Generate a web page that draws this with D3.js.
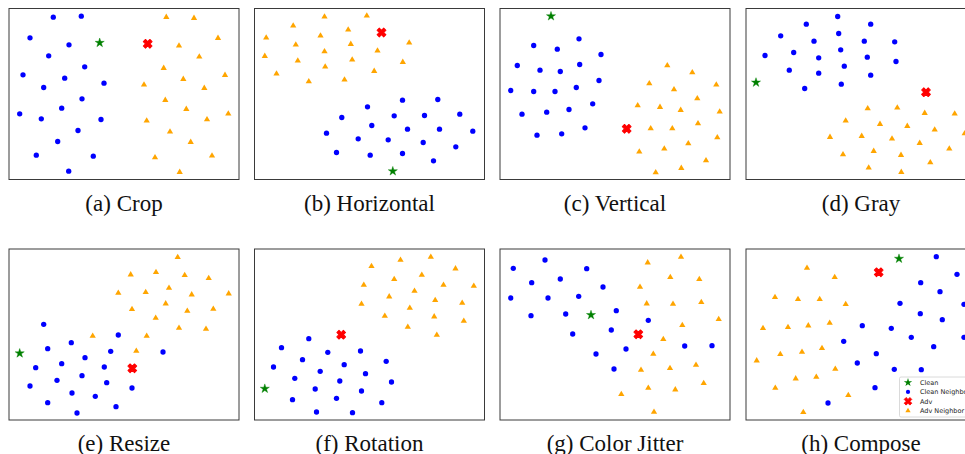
<!DOCTYPE html>
<html>
<head>
<meta charset="utf-8">
<script src="https://cdn.jsdelivr.net/npm/d3@7"></script>
<style>
  body { margin: 0; background: #fff; }
  svg { display: block; }
  .caption { font-family: "Liberation Serif", "Times New Roman", serif; font-size: 23px; fill: #111; }
  .legend text { font-family: "DejaVu Sans", sans-serif; font-size: 6.5px; fill: #222; }
</style>
</head>
<body>
<script>
// embedding coordinates (x right, y down, panel is 230 x 171)
const cropBlue = [[44.3,8.7],[72.3,7.7],[21,29.3],[60,36.3],[39.7,47.3],[75.7,58.3],[14,66.3],[55.7,69.7],[34.7,79],[95,74.7],
  [73,90.3],[52.7,99.7],[10.7,105.3],[32.3,110.3],[92,111],[69,122],[48.7,133],[27.3,146.7],[84.3,147.7],[59.7,162.7]];
const cropOrange = [[157.3,8.7],[185,9.7],[209,29.7],[170,37.3],[190.3,48.3],[154.7,59.7],[216,66.7],[174.3,70.7],[135,76.3],[195.3,79.7],
  [156.3,91.7],[177.3,100.7],[219.3,105.3],[137.7,112.3],[198,111],[161,123.3],[181.7,133.7],[146,149],[203,147.3],[170.7,163.7]];
const cropClean = [90.7, 34.3];
const cropAdv = [138.7, 35.3];

const horizBlue = [[148,91.7],[183.3,91],[113,98.3],[87.3,109],[139.7,107.3],[170,107],[205.3,105.7],[117.3,117],[153,120.7],[185,120.7],
  [218.3,122.7],[72,124.7],[103.7,130.3],[133.7,131.3],[168.7,134],[201.3,138.3],[82,144],[115.7,146.7],[148,145],[179,152.3]];
const horizOrange = [[70,8.3],[112.3,7.3],[38.7,17.3],[66,27.3],[93.7,21.3],[11.7,29.3],[41.3,36.3],[70,43],[96.3,35.7],[123,42.3],
  [154.7,34.3],[10.3,47.7],[43.3,52.3],[70.7,58.3],[97.7,51.3],[148.3,53.7],[22,65.3],[119.7,62.7],[54.3,73],[90,71.3]];
const horizClean = [138.3, 162.7];
const horizAdv = [127, 24];

const vertBlue = [[79,30.3],[33.7,37],[57.3,40.7],[101,46],[17.3,57],[40,61.7],[60.3,63],[79.7,56],[99,72],[10.7,82],
  [33.7,83],[55,83],[76.3,79],[92.7,95.3],[22,105.7],[46.7,103.7],[69,101],[85,119.3],[37,126.7],[61.7,125.3]];
const vertOrange = [[167.3,57],[192.3,64],[149.3,75],[174,81],[216.3,76.3],[197.3,90],[137.7,97],[160,98.7],[180.7,101.7],[219.7,103.3],
  [150.7,120],[172.3,120],[198,115],[217.3,129],[188.3,135],[164.3,140.3],[139.3,143.3],[206,152],[181.3,159.7],[155.7,164]];
const vertClean = [51, 7.7];
const vertAdv = [126.7, 120.3];

const grayBlue = [[91.7,8],[60.3,15.7],[124.7,15.7],[34.7,27.3],[92.7,25],[68,32.7],[118.3,32.7],[148.7,33.3],[19,47],[47.7,44],
  [72.7,49.3],[94.7,41.3],[121.3,48.7],[150,53],[43.3,61.7],[72.7,64.7],[98.3,57.7],[124.7,66.7],[58.7,80],[95.3,75.7]];
const grayOrange = [[121.7,100],[151.3,99.3],[178.7,104.7],[208.7,105.3],[99.7,112.3],[134,115.7],[161.3,117.7],[188.7,121.3],[218.7,125],[84,128.7],
  [115.7,127.7],[146,130.3],[173.7,134.7],[203.3,140.3],[97,146],[127.7,142.7],[155,146.7],[184.3,154],[122.7,159.3],[155.3,163.7]];
const grayClean = [10, 74];
const grayAdv = [180, 83.7];

const resizeBlue = [[34.7,75.3],[109.3,86],[62.3,93.7],[38.7,99.7],[101.7,102.3],[154,103],[76,108.7],[26.7,118.7],[52.7,114.7],[95.3,118],
  [73,126.7],[21,137],[48,131.3],[97.7,133.7],[123,139],[63,144],[86.3,147.3],[38.7,153.7],[107,157.7],[68,164]];
const resizeOrange = [[168.7,8.3],[121.7,25.7],[147,23.3],[175.7,26.3],[199.7,29.3],[109.3,44],[136.7,43.3],[160,39],[182.7,45.7],[219.7,44.7],
  [123,60.3],[156.7,54.7],[178.3,62],[204.3,60],[146.7,69],[170,79],[197,80],[83.7,87],[137.7,87],[127.3,102]];
const resizeClean = [10.7, 104.3];
const resizeAdv = [123.3, 119.3];

const rotBlue = [[54.3,89.7],[27,98.7],[73.3,103.3],[106,102],[48,110.7],[131.7,112.3],[19,118],[89.7,115.7],[65.7,122.3],[111,124.7],
  [40.3,129.3],[85.3,132],[137,133],[60.7,140],[107,142],[38,150.7],[82,149.3],[127.3,153.7],[62,163],[98,163.7]];
const rotOrange = [[117,17.3],[146,11],[176.3,8],[201,19.7],[139.7,30.3],[167.3,26],[109.3,36],[160,42],[189,36],[219.3,37],
  [134.7,47.7],[180.7,51.3],[207.7,54],[107,55],[155.3,59],[130.3,67],[179.7,67.7],[209.3,72],[153.3,78],[182.3,86]];
const rotClean = [10.3, 139.7];
const rotAdv = [86.7, 85.7];

const jitterBlue = [[13.3,19.3],[45,11],[86.7,19.7],[31.7,33.7],[60.3,30],[103,38],[10.7,49],[48,49],[78.7,47.3],[31,66.7],
  [65.7,65],[116.3,61.7],[148.3,71.3],[72.7,85],[111.3,81],[126,100],[184.7,97],[212,96.7],[96,105],[114,120]];
const jitterOrange = [[147.7,13.7],[181,8],[170.3,28.3],[199.3,30.3],[140,38],[146.7,54.7],[173,55],[201.3,53.3],[218.7,70.3],[182.3,76.3],
  [163.3,90.3],[153.3,105],[196,116],[170,119.3],[141,121],[203.7,134.3],[148.3,139],[175.3,140.7],[121.3,145.3],[154,163]];
const jitterClean = [91, 66];
const jitterAdv = [138.3, 85.3];

const composeBlue = [[190.3,7.7],[211,25.3],[174.7,33.7],[194,42.7],[218,55.3],[154,54.3],[174.3,64.7],[196.3,70.7],[116.3,76.7],[145.3,79.3],
  [165.3,88.3],[218,88.3],[187.7,97.7],[97.7,92.3],[130.3,104.7],[111.3,114],[148.3,120.3],[175.3,120.7],[129,138.7],[82,154]];
const composeOrange = [[61,19],[88.7,28.3],[29,48.3],[52,50.3],[73.7,50.3],[99.7,55.3],[17,79.3],[42,78.3],[62.3,76.7],[83.7,74],
  [10.7,111.7],[34.3,105.3],[56,103],[76,99.3],[89.3,120],[49.7,129.7],[70.3,128],[29.3,139],[102.3,146.3],[57.3,163.3]];
const composeClean = [153, 9.7];
const composeAdv = [132.7, 23.3];

const captions = ["(a) Crop", "(b) Horizontal", "(c) Vertical", "(d) Gray",
  "(e) Resize", "(f) Rotation", "(g) Color Jitter", "(h) Compose"];
const legendLabels = ["Clean", "Clean Neighbor", "Adv", "Adv Neighbor"];

const panels = [
  [cropBlue, cropOrange, cropClean, cropAdv],
  [horizBlue, horizOrange, horizClean, horizAdv],
  [vertBlue, vertOrange, vertClean, vertAdv],
  [grayBlue, grayOrange, grayClean, grayAdv],
  [resizeBlue, resizeOrange, resizeClean, resizeAdv],
  [rotBlue, rotOrange, rotClean, rotAdv],
  [jitterBlue, jitterOrange, jitterClean, jitterAdv],
  [composeBlue, composeOrange, composeClean, composeAdv]
].map(([blue, orange, clean, adv], i) => ({ blue, orange, clean, adv, caption: captions[i] }));

// layout
const width = 965;
const height = 454;
const pw = 230;
const ph = 171;
const lefts = [9, 254.5, 500, 746];
const tops = [8.5, 249];

const x = d3.scaleLinear().domain([0, 230]).range([0, pw]);
const y = d3.scaleLinear().domain([0, 171]).range([0, ph]);

const colors = { blue: "#0000ff", orange: "#ffa500", clean: "#008000", adv: "#ff0000" };
const sym = {
  blue: d3.symbol(d3.symbolCircle, 22)(),
  orange: d3.symbol(d3.symbolTriangle, 17)(),
  clean: d3.symbol(d3.symbolStar, 26)(),
  adv: d3.symbol(d3.symbolCross, 48)()
};
const rot = (k) => (k === "adv" ? " rotate(45)" : "");

const svg = d3.select("body").append("svg")
  .attr("width", width)
  .attr("height", height);

const g = svg.selectAll("g.panel")
  .data(panels)
  .join("g")
  .attr("class", "panel")
  .attr("transform", (d, i) => `translate(${lefts[i % 4]},${tops[Math.floor(i / 4)]})`);

g.append("rect")
  .attr("width", pw)
  .attr("height", ph)
  .attr("fill", "#fff")
  .attr("stroke", "#3a3a3a")
  .attr("stroke-width", 1);

// scatter marks
g.each(function (d) {
  const p = d3.select(this);
  ["orange", "blue"].forEach((k) => {
    p.selectAll(`path.${k}`)
      .data(d[k])
      .join("path")
      .attr("class", k)
      .attr("d", sym[k])
      .attr("fill", colors[k])
      .attr("transform", (v) => `translate(${x(v[0])},${y(v[1])})`);
  });
  ["clean", "adv"].forEach((k) => {
    p.append("path")
      .attr("d", sym[k])
      .attr("fill", colors[k])
      .attr("stroke", colors[k])
      .attr("stroke-width", k === "adv" ? 1 : 0.4)
      .attr("stroke-linejoin", "round")
      .attr("transform", `translate(${x(d[k][0])},${y(d[k][1])})${rot(k)}`);
  });
});

g.append("text")
  .attr("class", "caption")
  .attr("x", pw / 2)
  .attr("y", ph + 31)
  .attr("text-anchor", "middle")
  .text((d) => d.caption);

// legend inside panel (h)
const lg = d3.select(g.nodes()[7]).append("g")
  .attr("class", "legend")
  .attr("transform", "translate(153.5,128)");
lg.append("rect")
  .attr("width", 73)
  .attr("height", 40)
  .attr("rx", 1.5)
  .attr("fill", "rgba(255,255,255,0.85)")
  .attr("stroke", "#d0d0d0")
  .attr("stroke-width", 0.8);
const legSym = [
  ["clean", d3.symbol(d3.symbolStar, 22)()],
  ["blue", d3.symbol(d3.symbolCircle, 14)()],
  ["adv", d3.symbol(d3.symbolCross, 36)()],
  ["orange", d3.symbol(d3.symbolTriangle, 12)()]
];
const rows = lg.selectAll("g.row")
  .data(legendLabels)
  .join("g")
  .attr("class", "row")
  .attr("transform", (d, i) => `translate(8.5,${5.5 + i * 9.4})`);
rows.append("path")
  .attr("d", (d, i) => legSym[i][1])
  .attr("fill", (d, i) => colors[legSym[i][0]])
  .attr("stroke", (d, i) => (legSym[i][0] === "adv" ? colors.adv : "none"))
  .attr("stroke-width", 0.8)
  .attr("transform", (d, i) => (legSym[i][0] === "adv" ? "rotate(45)" : ""));
rows.append("text")
  .attr("x", 12)
  .attr("y", 2.3)
  .text((d) => d);
</script>
</body>
</html>
